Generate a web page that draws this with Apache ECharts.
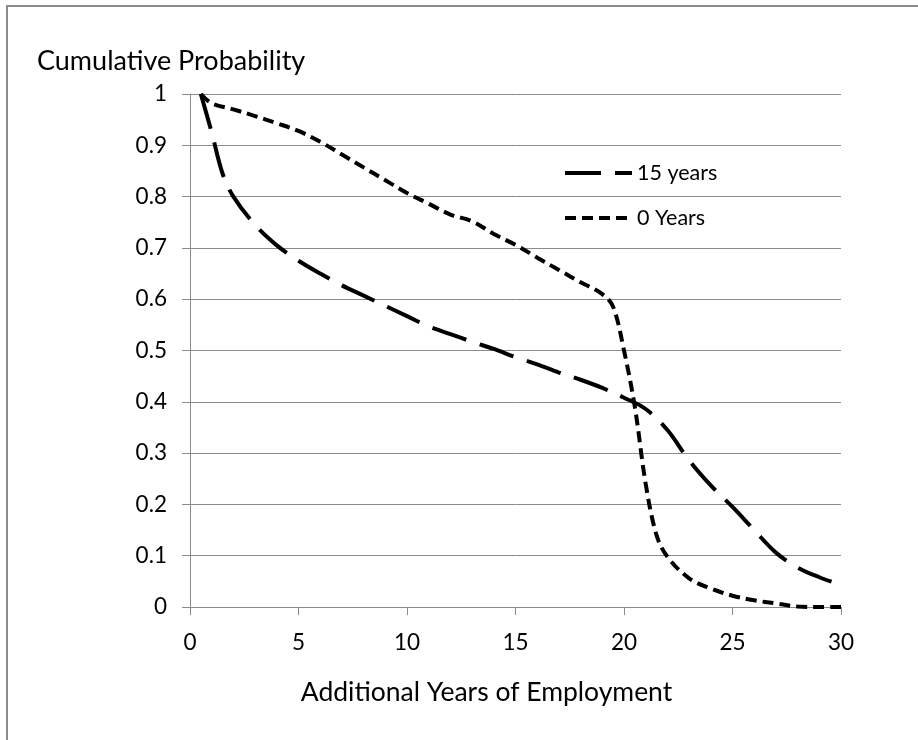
<!DOCTYPE html>
<html>
<head>
<meta charset="utf-8">
<style>
  html, body { margin: 0; padding: 0; background: #fff; }
  #chart { width: 918px; height: 740px; }
</style>
<script src="https://cdn.jsdelivr.net/npm/echarts@6/dist/echarts.min.js"></script>
</head>
<body>
<div id="chart"></div>
<script>
// Data
const seriesNames = ['15 years', '0 Years'];
const years15X = [0.5, 1, 1.5, 2, 3, 4, 5, 6, 7, 8, 9, 10, 11, 12, 13, 14, 15, 16, 17, 18, 19, 20, 21, 22, 23, 24, 25, 26, 27, 28, 29, 30];
const years15Y = [1.0, 0.925, 0.845, 0.80, 0.745, 0.705, 0.675, 0.65, 0.627, 0.607, 0.587, 0.567, 0.547, 0.532, 0.517, 0.503, 0.487, 0.473, 0.457, 0.443, 0.427, 0.408, 0.386, 0.345, 0.286, 0.237, 0.195, 0.150, 0.106, 0.077, 0.058, 0.043];
const years0X = [0.5, 1, 2, 3, 4, 5, 6, 7, 8, 9, 10, 11, 12, 13, 14, 15, 16, 17, 18, 19, 19.5, 20, 20.5, 21, 21.5, 22, 23, 24, 25, 26, 27, 28, 29, 30];
const years0Y = [1.0, 0.982, 0.97, 0.957, 0.943, 0.928, 0.907, 0.882, 0.857, 0.832, 0.807, 0.786, 0.765, 0.752, 0.727, 0.706, 0.681, 0.657, 0.633, 0.61, 0.585, 0.50, 0.39, 0.24, 0.14, 0.098, 0.056, 0.036, 0.022, 0.013, 0.007, 0.001, 0.0, 0.0];
const xTicks = [0, 5, 10, 15, 20, 25, 30];
const yTicks = [0, 0.1, 0.2, 0.3, 0.4, 0.5, 0.6, 0.7, 0.8, 0.9, 1];

const pair = (xs, ys) => xs.map((x, i) => [x, ys[i]]);
const FONT = 'Lato';

const chart = echarts.init(document.getElementById('chart'), null, { renderer: 'canvas' });
chart.setOption({
  animation: false,
  backgroundColor: '#fff',
  title: {
    text: 'Cumulative Probability',
    left: 32, top: 43,
    textStyle: { fontFamily: FONT, fontSize: 27, fontWeight: 'normal', color: '#000' }
  },
  graphic: [{
    type: 'rect',
    shape: { x: 7, y: 6, width: 1200, height: 1200 },
    style: { fill: 'none', stroke: '#8c8c8c', lineWidth: 2 },
    silent: true
  }],
  legend: {
    orient: 'vertical',
    left: 558, top: 156,
    itemWidth: 67, itemHeight: 14, itemGap: 21,
    textStyle: { fontFamily: FONT, fontSize: 21.5, color: '#000', lineHeight: 24 },
    lineStyle: { width: 4 },
    itemStyle: { opacity: 0 },
    data: seriesNames
  },
  grid: { left: 190, right: 77, top: 94, bottom: 133, containLabel: false },
  xAxis: {
    type: 'value', min: 0, max: 30, interval: 5,
    name: 'Additional Years of Employment',
    nameLocation: 'middle', nameGap: 72,
    nameTextStyle: { fontFamily: FONT, fontSize: 26.5, color: '#000', padding: [0, 58, 0, 0] },
    axisLine: { show: true, lineStyle: { color: '#8c8c8c', width: 1 } },
    axisTick: { show: true, length: 8, lineStyle: { color: '#8c8c8c' } },
    axisLabel: { fontFamily: FONT, fontSize: 22.5, color: '#000', margin: 24,
      formatter: v => xTicks.includes(v) ? String(v) : '' },
    splitLine: { show: false }
  },
  yAxis: {
    type: 'value', min: 0, max: 1, interval: 0.1,
    axisLine: { show: true, lineStyle: { color: '#8c8c8c', width: 1 } },
    axisTick: { show: true, length: 8, lineStyle: { color: '#8c8c8c' } },
    axisLabel: { fontFamily: FONT, fontSize: 22.5, color: '#000', margin: 23,
      formatter: v => { const t = yTicks.find(k => Math.abs(k - v) < 1e-9); return t === undefined ? '' : String(t); } },
    splitLine: { show: true, lineStyle: { color: '#8c8c8c', width: 1 } }
  },
  series: [
    {
      name: seriesNames[0], type: 'line', data: pair(years15X, years15Y),
      symbol: 'none', smooth: 0.35,
      lineStyle: { color: '#000', width: 4, type: [36, 14], cap: 'butt' },
      itemStyle: { color: '#000' }
    },
    {
      name: seriesNames[1], type: 'line', data: pair(years0X, years0Y),
      symbol: 'none', smooth: 0.35,
      lineStyle: { color: '#000', width: 4, type: [11, 6], cap: 'butt' },
      itemStyle: { color: '#000' }
    }
  ]
});
</script>
</body>
</html>
